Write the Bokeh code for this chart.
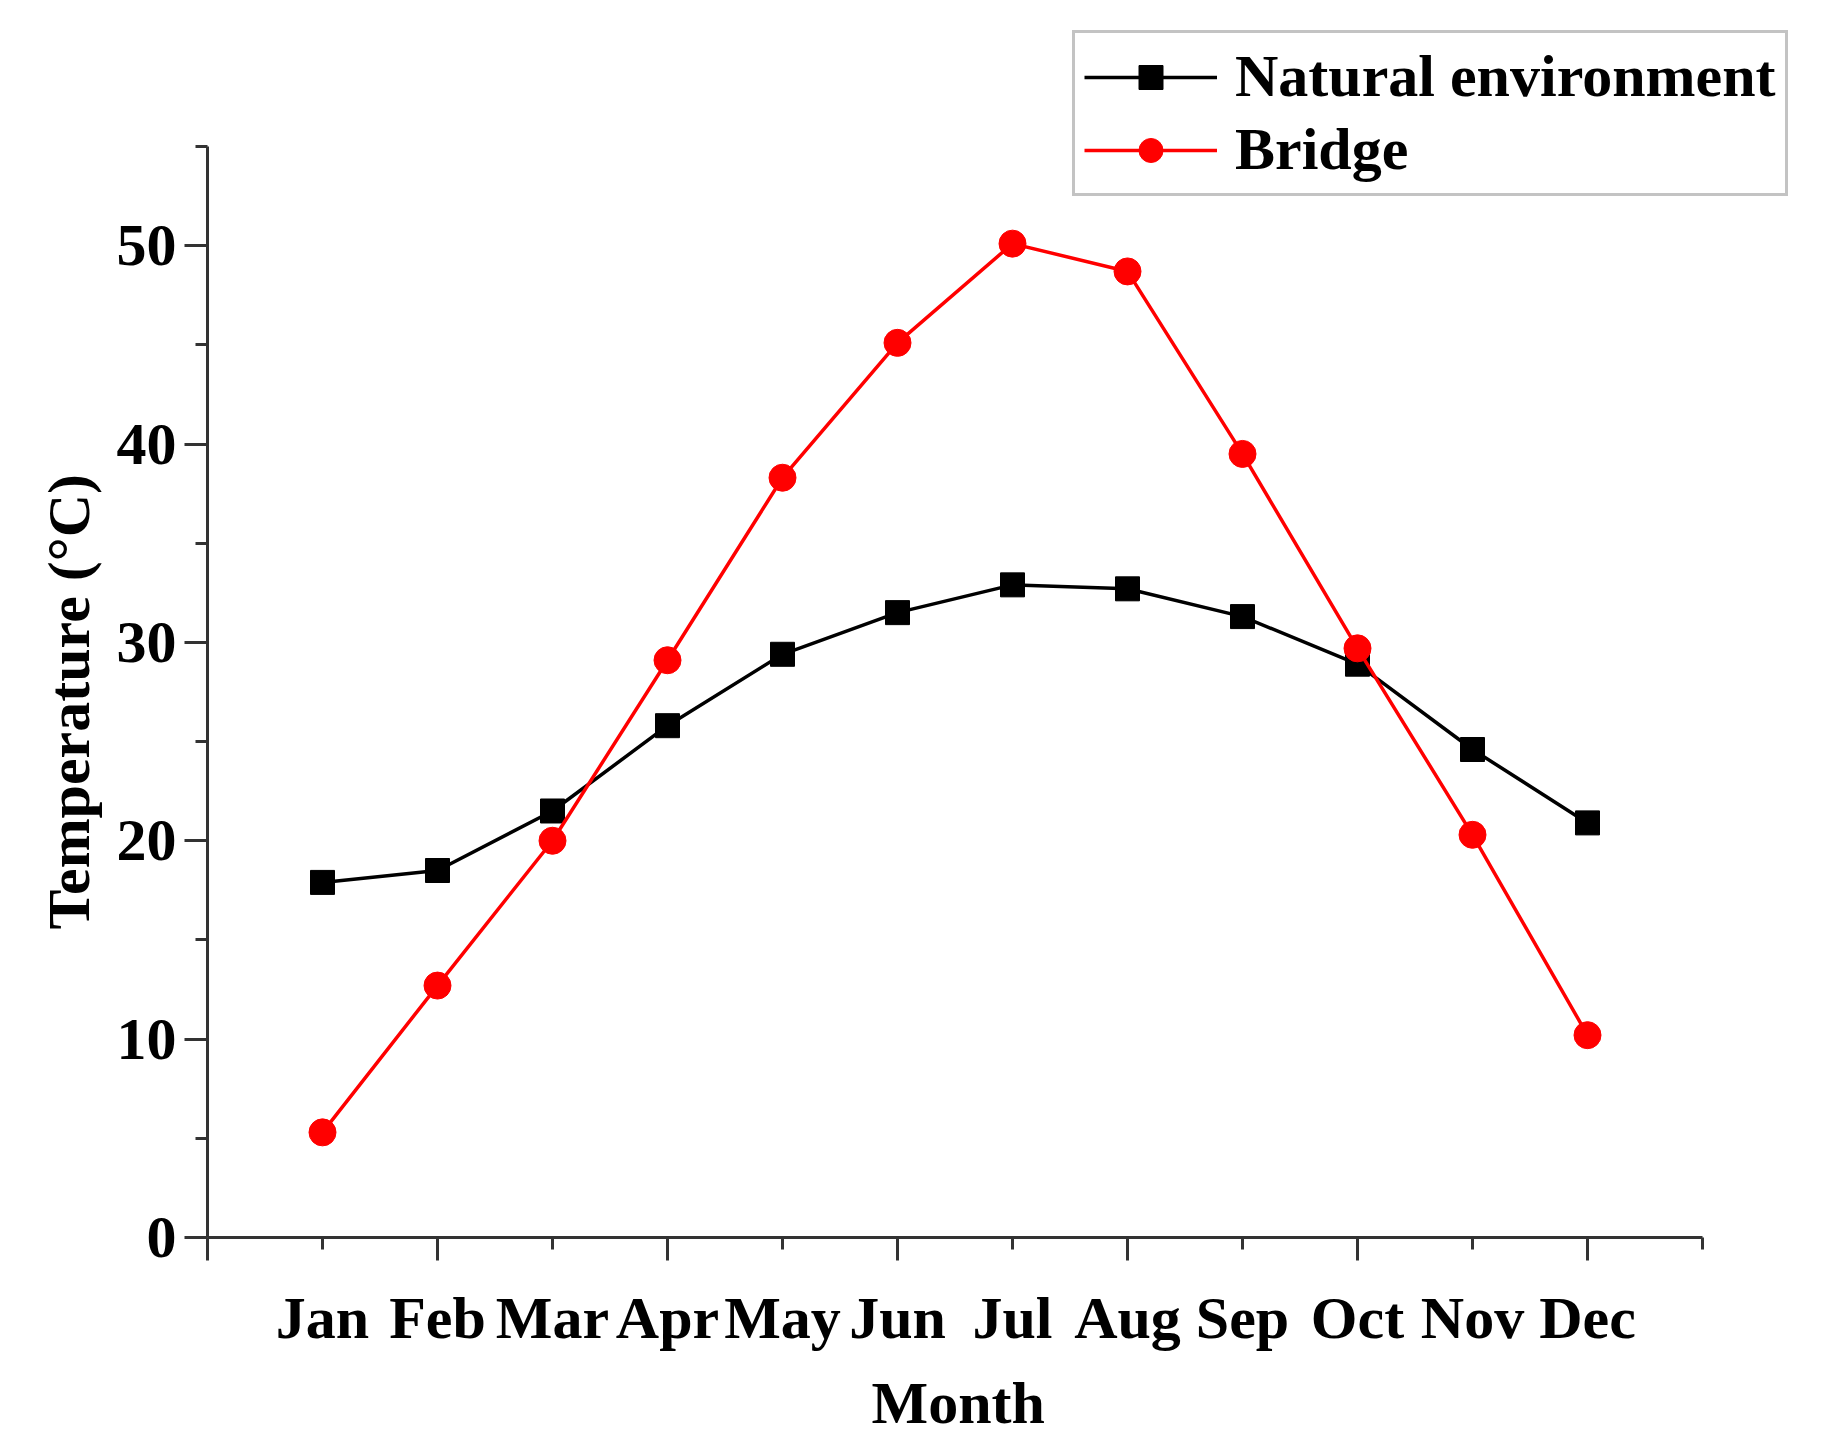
from bokeh.plotting import figure
from bokeh.models import Range1d, FixedTicker, Legend, LegendItem, Title
from bokeh.embed import file_html
from bokeh.resources import INLINE

months = ["Jan", "Feb", "Mar", "Apr", "May", "Jun", "Jul", "Aug", "Sep", "Oct", "Nov", "Dec"]
month_idx = [1, 2, 3, 4, 5, 6, 7, 8, 9, 10, 11, 12]
natural = [17.9, 18.5, 21.5, 25.8, 29.4, 31.5, 32.9, 32.7, 31.3, 28.9, 24.6, 20.9]
bridge = [5.3, 12.7, 20.0, 29.1, 38.3, 45.1, 50.1, 48.7, 39.5, 29.7, 20.3, 10.2]
y_major = [0, 10, 20, 30, 40, 50]
y_minor = [5, 15, 25, 35, 45, 55]
x_axis_end = 13
y_axis_end = 55

FONT = "Liberation Serif"
FS = "60px"

# frame extends above/right of the drawn axes so the legend box can sit there
p = figure(frame_width=1603, frame_height=1219,
           min_border_left=207, min_border_top=18, min_border_right=4, min_border_bottom=211,
           x_range=Range1d(0, 13.939), y_range=Range1d(0, 61.45),
           output_backend="svg", toolbar_location=None,
           background_fill_color="white", border_fill_color="white")
p.outline_line_color = None
p.xgrid.visible = False
p.ygrid.visible = False

nl = p.line(month_idx, natural, line_color="black", line_width=3.5)
ns = p.scatter(month_idx, natural, marker="square", size=24, fill_color="black", line_color="black")
bl = p.line(month_idx, bridge, line_color="red", line_width=3.5)
bs = p.scatter(month_idx, bridge, marker="circle", size=27, fill_color="red", line_color="red")

axis_color = "#333333"
for ax in (p.xaxis[0], p.yaxis[0]):
    ax.axis_line_color = axis_color
    ax.axis_line_width = 3
    ax.major_tick_line_color = axis_color
    ax.major_tick_line_width = 3
    ax.minor_tick_line_color = axis_color
    ax.minor_tick_line_width = 3
    ax.major_tick_in = 0
    ax.minor_tick_in = 0
    ax.major_label_text_font = FONT
    ax.major_label_text_font_style = "bold"
    ax.major_label_text_font_size = FS
    ax.major_label_text_color = "black"

xa = p.xaxis[0]
xa.bounds = (0, x_axis_end)
xa.ticker = FixedTicker(ticks=month_idx + [x_axis_end], minor_ticks=[0, 2, 4, 6, 8, 10, 12])
xa.major_tick_out = 12
xa.minor_tick_out = 23
overrides = {m: name for m, name in zip(month_idx, months)}
overrides[x_axis_end] = ""
xa.major_label_overrides = overrides
xa.major_label_standoff = 24

ya = p.yaxis[0]
ya.bounds = (0, y_axis_end)
ya.ticker = FixedTicker(ticks=y_major, minor_ticks=y_minor)
ya.major_tick_out = 23
ya.minor_tick_out = 12
ya.major_label_standoff = 8

# axis titles (as titles so they can be centred on the drawn axis, not the frame)
xt = Title(text="Month", align="left", offset=664, text_font=FONT, text_font_style="bold",
           text_font_size=FS, text_color="black", standoff=29)
p.add_layout(xt, "below")
yt = Title(text="Temperature (°C)", align="left", offset=308, text_font=FONT, text_font_style="bold",
           text_font_size=FS, text_color="black", standoff=24)
p.add_layout(yt, "left")

legend = Legend(items=[LegendItem(label="Natural environment", renderers=[nl, ns]),
                       LegendItem(label="Bridge", renderers=[bl, bs])],
                location=(865, 1041))
legend.label_text_font = FONT
legend.label_text_font_style = "bold"
legend.label_text_font_size = FS
legend.label_text_color = "black"
legend.border_line_color = "#888888"
legend.border_line_width = 3
legend.background_fill_color = "white"
legend.background_fill_alpha = 1.0
legend.glyph_width = 133
legend.glyph_height = 60
legend.label_height = 60
legend.label_standoff = 18
legend.padding = 9
legend.spacing = 4
legend.margin = 0
p.add_layout(legend, "center")

open("out.html", "w").write(file_html(p, INLINE))
